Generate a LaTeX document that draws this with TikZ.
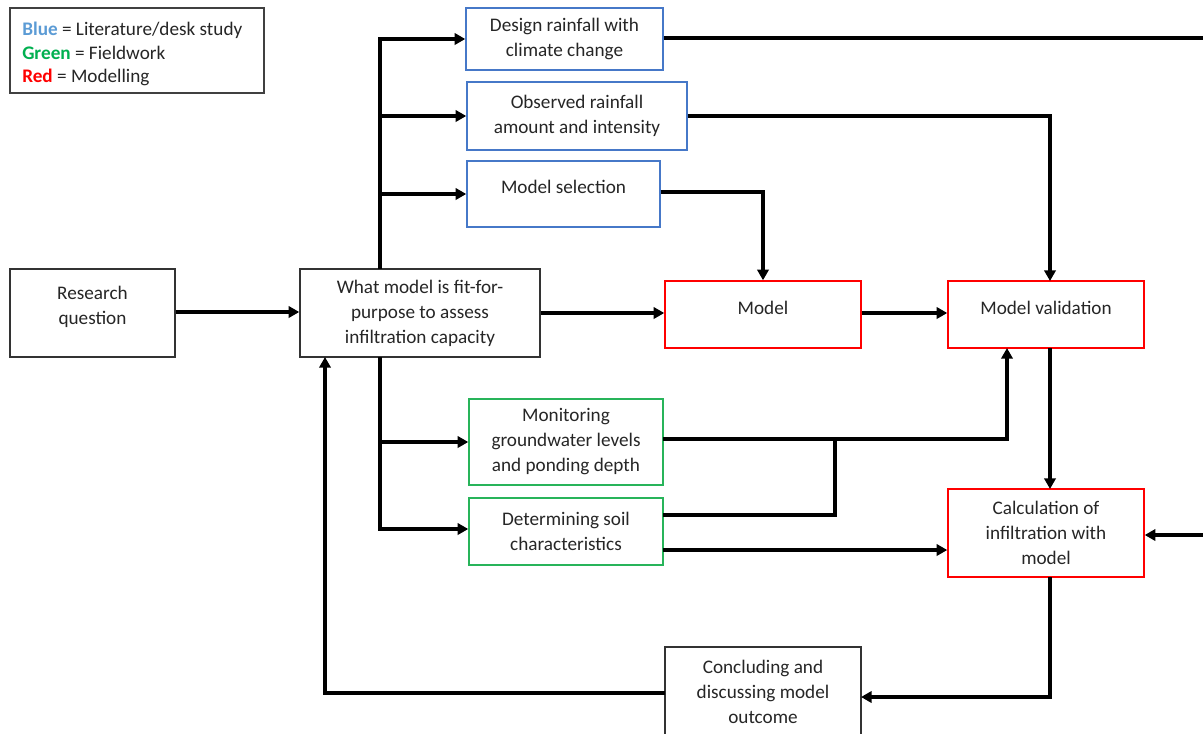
\documentclass[tikz,border=0pt]{standalone}
\usepackage{fontspec}
\setmainfont{Carlito}
\usetikzlibrary{arrows.meta}
\definecolor{cblue}{RGB}{91,155,213}
\definecolor{cbluebox}{RGB}{70,120,200}
\definecolor{cgreen}{RGB}{0,176,80}
\definecolor{cgreenbox}{RGB}{40,180,90}
\definecolor{cred}{RGB}{255,0,0}
\tikzset{
  box/.style={draw, line width=1.1pt, align=center, inner sep=0pt,
    font=\fontsize{14.4pt}{18.75pt}\selectfont, text=black!85},
  bluebox/.style={box, draw=cbluebox},
  greenbox/.style={box, draw=cgreenbox},
  redbox/.style={box, draw=cred},
  blackbox/.style={box, draw=black!80},
  boxtext/.style={align=center, inner sep=0pt,
    font=\fontsize{14.4pt}{18.75pt}\selectfont, text=black!85},
  conn/.style={line width=2.4pt, line cap=butt, line join=miter},
  arr/.style={conn, -{Triangle[length=8pt,width=8.5pt]}},
}
\begin{document}
\begin{tikzpicture}[x=0.75pt,y=-0.75pt]
\clip (0,0) rectangle (1203,733);
\fill[white] (0,0) rectangle (1203,733);

% legend
\node[draw=black!75, line width=0.9pt, minimum width=254*0.75pt, minimum height=85*0.75pt, inner sep=0pt] (legend) at (137,50.5) {};
\node[anchor=west, align=left, inner sep=0pt, font=\fontsize{14.4pt}{17.6pt}\selectfont, text=black!85] (legtext) at (22,54)
  {\textcolor{cblue}{\textbf{Blue}} = Literature/desk study\\
   \textcolor{cgreen}{\textbf{Green}} = Fieldwork\\
   \textcolor{cred}{\textbf{Red}} = Modelling};

% boxes
\node[bluebox, minimum width=197*0.75pt, minimum height=62*0.75pt] (design) at (564.5,39) {Design rainfall with\\climate change};
\node[bluebox, minimum width=220*0.75pt, minimum height=68*0.75pt] (obs) at (577,116) {Observed rainfall\\amount and intensity};
\node[bluebox, minimum width=193*0.75pt, minimum height=66*0.75pt] (sel) at (563.5,194) {\raisebox{10.5pt}{Model selection}};
\node[blackbox, minimum width=165*0.75pt, minimum height=88*0.75pt] (rq) at (92.5,313) {};
\node[boxtext] (rqtext) at (92.5,307) {Research\\question};
\node[blackbox, minimum width=240*0.75pt, minimum height=88*0.75pt] (what) at (420,313) {What model is fit-for-\\purpose to assess\\infiltration capacity};
\node[redbox, minimum width=196*0.75pt, minimum height=67*0.75pt] (model) at (763,314.5) {\raisebox{10.5pt}{Model}};
\node[redbox, minimum width=196*0.75pt, minimum height=67*0.75pt] (val) at (1046,314.5) {\raisebox{10.5pt}{Model validation}};
\node[greenbox, minimum width=194*0.75pt, minimum height=86*0.75pt] (mon) at (566,442) {Monitoring\\groundwater levels\\and ponding depth};
\node[greenbox, minimum width=194*0.75pt, minimum height=67*0.75pt] (det) at (566,531.5) {Determining soil\\characteristics};
\node[redbox, minimum width=196*0.75pt, minimum height=88*0.75pt] (calc) at (1046,533) {Calculation of\\infiltration with\\model};
\node[blackbox, minimum width=196*0.75pt, minimum height=89*0.75pt] (conc) at (763,691.5) {Concluding and\\discussing model\\outcome};

% coordinates
\coordinate (wtop) at (380,269);
\coordinate (wbot) at (380,357);
\coordinate (edgeA) at (1203,38);
\coordinate (edgeB) at (1203,535);
\coordinate (valN) at (1050,281);
\coordinate (valS) at (1050,348);
\coordinate (valS2) at (1007,348);
\coordinate (calcN) at (1050,489);
\coordinate (calcS) at (1050,577);
\coordinate (concE) at (861,697);
\coordinate (concW) at (665,693);
\coordinate (whatS) at (325,357);
\coordinate (monE) at (663,439);
\coordinate (detE1) at (663,515);
\coordinate (detE2) at (663,550);
\coordinate (junc) at (835,439);

% connectors
\draw[arr] (rq.east |- 0,312) -- (what.west |- 0,312);
\draw[arr] (what.east) -- (model.west |- what.east);
\draw[arr] (model.east |- what.east) -- (val.west |- what.east);

\draw[arr] (wtop) |- (design.west);
\draw[arr] (wtop) |- (obs.west);
\draw[arr] (wtop) |- (sel.west);
\draw[conn] (design.east |- edgeA) -- (edgeA);
\draw[arr] (obs.east) -| (valN);
\draw[arr] (sel.east |- 0,192) -| (model.north);

\draw[arr] (wbot) |- (mon.west);
\draw[arr] (wbot) |- (det.west |- 0,529);
\draw[arr] (monE) -| (valS2);
\draw[conn] (detE1) -| (junc);
\draw[arr] (detE2) -- (calc.west |- detE2);
\draw[arr] (valS) -- (calcN);
\draw[arr] (edgeB) -- (calc.east |- edgeB);
\draw[arr] (calcS) |- (concE);
\draw[arr] (concW) -| (whatS);
\end{tikzpicture}
\end{document}
